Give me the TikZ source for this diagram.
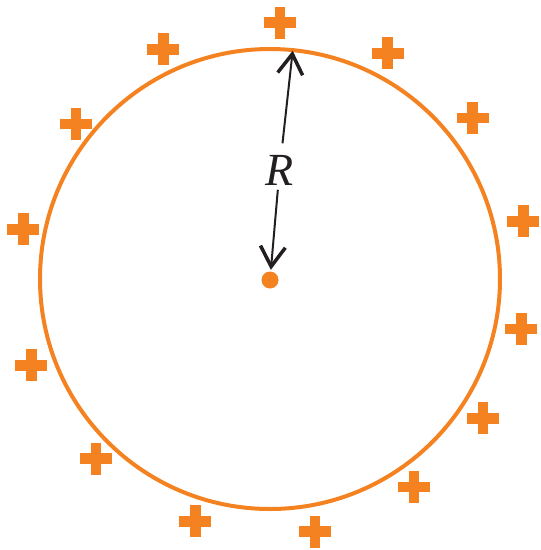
\documentclass[tikz,border=0pt]{standalone}
\usepackage{fontspec}
\newfontfamily\rfont{Liberation Serif}
\usetikzlibrary{arrows.meta}
\definecolor{ora}{RGB}{245,130,32}
\definecolor{ink}{RGB}{35,31,32}
\begin{document}
\begin{tikzpicture}[x=1pt,y=-1pt,
  plussign/.pic={\fill[ora] (-16,-5.3) rectangle (16,5.3);
                 \fill[ora] (-5.3,-16) rectangle (5.3,16);},
  radarrow/.style={draw=ink,line width=2pt,
    -{Straight Barb[length=20pt,width=25pt,line width=3.5pt]}},
  chargedot/.style={circle,fill=ora,inner sep=0pt,minimum size=17pt}]
\useasboundingbox (0,0) rectangle (541,550);
% sphere
\draw[ora,line width=4pt] (270,279) circle[radius=230];
% charges
\foreach \x/\y in {280/22.7, 163.3/49.3, 387.7/53.3, 76/124, 472.7/118,
  23.3/229.3, 523.3/221.3, 31.3/365.3, 521.3/329, 96/458.7, 483/418.3,
  195.3/521.3, 414/487, 315/531.7}
  \pic at (\x,\y) {plussign};
% centre and radius
\node[chargedot] (c) at (270,280) {};
\coordinate (top) at (292.7,50.7);
\node[inner sep=2pt,text=ink,font=\rfont\itshape\fontsize{46}{52}\selectfont] (R) at (279.5,170.5) {R};
\draw[radarrow,shorten <=10pt] (R) -- (top);
\draw[radarrow,shorten <=2pt,shorten >=1.5pt] (R) -- (c);
\end{tikzpicture}
\end{document}
